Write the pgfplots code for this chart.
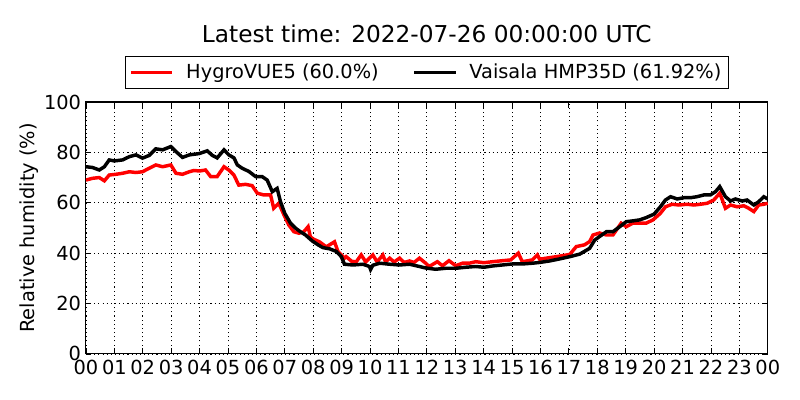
\documentclass[border=0pt]{standalone}
\usepackage{pgfplots}
\pgfplotsset{compat=1.18}
\usepackage{fontspec}
\setmainfont{DejaVu Sans}
\begin{document}
\begin{tikzpicture}
\begin{axis}[
  name=ax,
  at={(0,0)}, anchor=south west,
  scale only axis,
  width=492.8pt, height=182.1pt,
  xmin=0, xmax=24, ymin=0, ymax=100,
  xtick={0,1,...,24},
  xticklabels={00,01,02,03,04,05,06,07,08,09,10,11,12,13,14,15,16,17,18,19,20,21,22,23,00},
  ytick={0,20,40,60,80,100},
  /pgf/number format/assume math mode=true,
  tick label style={font=\fontsize{14}{16}\selectfont},
  xticklabel style={yshift=-1pt},
  tick align=inside,
  major tick length=4pt,
  every tick/.style={black, line width=0.6pt},
  axis line style={line width=0.8pt},
  grid=major,
  major grid style={black, line width=0.5pt, dash pattern=on 0.8pt off 2.2pt},
  every axis y label/.style={at={(axis description cs:-0.0836,0.5)}, rotate=90, anchor=center, font=\fontsize{14}{16}\selectfont},
  ylabel={Relative humidity (\%)},
  title={Latest time: 2022-07-26 00:00:00 UTC},
  every axis title/.style={at={(axis description cs:0.5,1.2696)}, anchor=center, font=\fontsize{16.8}{20}\selectfont},
  legend columns=2,
  legend style={at={(axis description cs:0.5,1.0516)}, anchor=south, draw=black, line width=0.8pt,
    font=\fontsize{14}{16}\selectfont, inner xsep=3pt, inner ysep=3.5pt,
    /tikz/every even column/.append style={column sep=22.5pt},
    /tikz/every odd column/.append style={column sep=7pt}},
  legend cell align=left,
  legend image code/.code={\draw[#1, line width=2pt] (0pt,0pt) -- (30pt,0pt);},
]
\addplot[red, line width=2.5pt] coordinates {
(0,69) (0.23,69.7) (0.47,70) (0.65,68.7) (0.82,71) (1.06,71.3) (1.29,71.7) (1.53,72.3) (1.76,72) (1.99,72.3) (2.23,73.7) (2.46,75) (2.70,74.3) (2.99,75) (3.17,71.7) (3.40,71.3) (3.64,72.3) (3.80,72.8) (4.0,72.6) (4.21,73) (4.39,70.4) (4.62,70.4) (4.86,74.3) (5.03,73) (5.21,71) (5.38,67) (5.62,67.3) (5.85,66.8) (6.03,63.8) (6.26,63.1) (6.50,63.1) (6.61,57.8) (6.79,59.8) (6.97,55.2) (7.14,51.2) (7.32,48.5) (7.50,47.9) (7.67,48.5) (7.82,50.5) (7.90,46.5) (8.0,45.6) (8.22,44.5) (8.46,42.5) (8.75,44.5) (8.87,40.7) (9.10,38) (9.16,38.6) (9.35,36.8) (9.51,36.5) (9.69,39.3) (9.85,36.5) (9.98,38) (10.10,39.3) (10.25,36.5) (10.45,39.3) (10.55,36.5) (10.69,38) (10.85,36.5) (11.04,38) (11.2,36.3) (11.39,36.9) (11.55,36.3) (11.74,38) (11.96,36) (12.08,34.7) (12.37,36.6) (12.55,35) (12.78,37) (13.02,35) (13.25,36) (13.49,36) (13.72,36.6) (14.01,36.2) (14.31,36.6) (14.66,37) (14.95,37.3) (15.22,40) (15.36,36.6) (15.71,37.3) (15.89,39.3) (15.97,37.6) (16.32,38.2) (16.67,38.8) (17.03,39.5) (17.26,42.6) (17.55,43.3) (17.73,44.6) (17.85,47.2) (18.08,48) (18.32,47.2) (18.55,47.2) (18.84,51.9) (19.02,50.5) (19.25,51.9) (19.49,51.9) (19.72,51.9) (19.96,53.2) (20.22,55.8) (20.40,58.4) (20.63,59.4) (20.87,59.1) (21.16,59.4) (21.40,59.1) (21.63,59.4) (21.87,59.8) (22.10,61.1) (22.31,63.8) (22.51,57.8) (22.69,59.1) (22.92,58.4) (23.16,58.8) (23.33,57.8) (23.51,56.5) (23.68,59.1) (23.86,59.4) (24,59.8)
};
\addlegendentry{HygroVUE5 (60.0\%)}
\addplot[black, line width=2.5pt] coordinates {
(0,74.3) (0.23,74) (0.47,73) (0.65,74.3) (0.82,77) (1.0,76.6) (1.29,77) (1.53,78.3) (1.76,79) (1.99,77.7) (2.23,78.8) (2.46,81.4) (2.70,81) (2.99,82.3) (3.17,80.3) (3.40,78) (3.64,79) (3.98,79.5) (4.27,80.6) (4.45,78.8) (4.62,77.8) (4.86,81) (5.03,79) (5.21,77.8) (5.33,75) (5.50,73.7) (5.74,72.4) (5.97,70.4) (6.20,70.4) (6.38,69) (6.56,64.4) (6.73,65.7) (6.85,60.4) (7.00,55.8) (7.20,51.9) (7.38,49.9) (7.55,48.5) (7.73,47.2) (7.96,44.9) (8.17,43.3) (8.34,42.2) (8.58,41.7) (8.81,40.7) (8.99,38.6) (9.10,35.6) (9.40,35.3) (9.75,35.6) (9.98,34.7) (10.02,33.5) (10.10,35.2) (10.34,36) (10.69,35.6) (11.04,35.3) (11.39,35.6) (11.74,34.7) (11.96,34.1) (12.31,33.6) (12.66,34) (13.02,34) (13.37,34.4) (13.72,34.7) (14.01,34.4) (14.31,34.9) (14.66,35.3) (15.01,35.7) (15.36,35.7) (15.71,36) (15.97,36.3) (16.32,36.9) (16.67,37.7) (17.03,38.6) (17.38,39.6) (17.73,41.9) (17.91,45.2) (18.08,46.6) (18.32,48.5) (18.55,48.5) (18.79,50.5) (19.02,52.5) (19.25,52.8) (19.49,53.2) (19.72,54.1) (20.0,55.5) (20.22,58.4) (20.40,61.1) (20.58,62.4) (20.81,61.5) (21.05,62) (21.28,62) (21.51,62.4) (21.75,63.1) (21.98,63.1) (22.16,64.4) (22.31,66.4) (22.51,62.4) (22.69,60.7) (22.86,61.5) (23.10,60.7) (23.27,61.1) (23.51,59.1) (23.68,60.4) (23.86,62.4) (24,61.5)
};
\addlegendentry{Vaisala HMP35D (61.92\%)}
\end{axis}
\pgfresetboundingbox
\path[use as bounding box] (-62.1pt,-33.2pt) rectangle (516.1pt,255.8pt);
\end{tikzpicture}
\end{document}
